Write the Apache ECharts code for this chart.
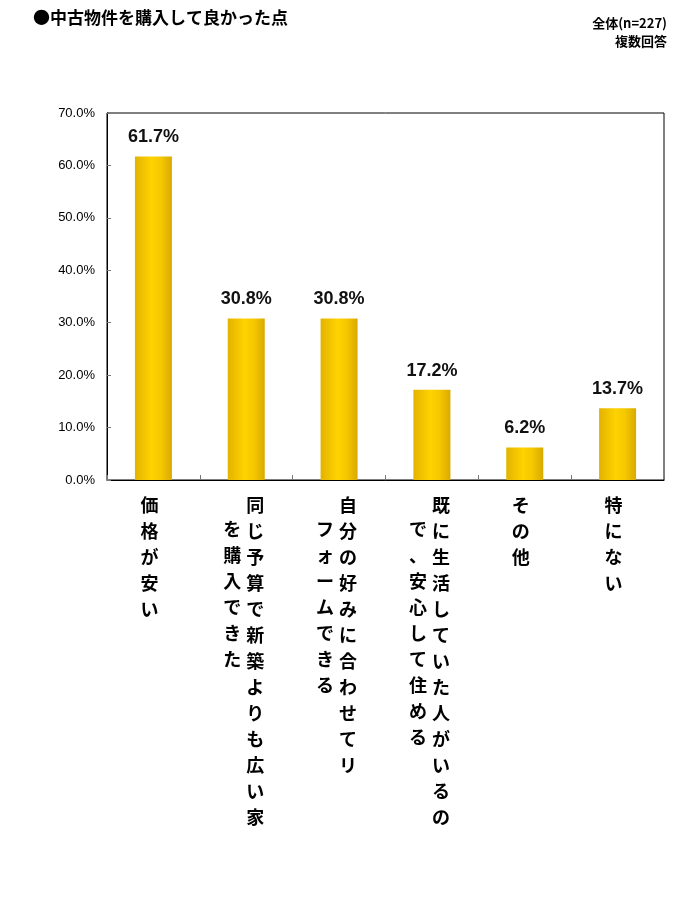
<!DOCTYPE html>
<html>
<head>
<meta charset="utf-8">
<script src="https://cdn.jsdelivr.net/npm/echarts@6/dist/echarts.min.js"></script>
<style>html,body{margin:0;background:#fff}#c{width:700px;height:904px}</style>
</head>
<body>
<div id="c"></div>
<script>
var categories = ['価格が安い', '同じ予算で新築よりも広い家を購入できた', '自分の好みに合わせてリフォームできる', '既に生活していた人がいるので、安心して住める', 'その他', '特にない'];
// label columns (vertical text, right column first)
var labelCol1 = ['価格が安い', '同じ予算で新築よりも広い家', '自分の好みに合わせてリ', '既に生活していた人がいるの', 'その他', '特にない'];
var labelCol2 = ['', 'を購入できた', 'フォームできる', 'で、安心して住める', '', ''];
var values = [61.7, 30.8, 30.8, 17.2, 6.2, 13.7];

var font = '"Noto Sans CJK JP", sans-serif';

var chart = echarts.init(document.getElementById('c'));
var baseAxis = {
    type: 'category',
    data: categories,
    position: 'bottom',
    offset: 0,
    axisLine: { show: false },
    axisTick: { show: false }
};
var charStyle = { fontFamily: font, fontSize: 18, fontWeight: 'bold', color: '#000', lineHeight: 26 };
chart.setOption({
    animation: false,
    title: [
        { text: '●中古物件を購入して良かった点', left: 28, top: 4,
          textStyle: { fontFamily: font, fontSize: 17, fontWeight: 'bold', color: '#000' } },
        { text: '全体(n=227)', right: 28, top: 12,
          textStyle: { fontFamily: font, fontSize: 13, fontWeight: 'bold', color: '#000' } },
        { text: '複数回答', right: 28, top: 30,
          textStyle: { fontFamily: font, fontSize: 13, fontWeight: 'bold', color: '#000' } }
    ],
    grid: { left: 107, right: 36, top: 113, bottom: 424, show: true, borderColor: '#000', borderWidth: 1 },
    xAxis: [
        Object.assign({}, baseAxis, {
            axisLine: { show: true, lineStyle: { color: '#000' } },
            axisTick: { show: true, inside: true, length: 5, lineStyle: { color: '#777' } },
            axisLabel: {
                margin: 12, interval: 0,
                formatter: function (v, i) {
                    var style = labelCol2[i] ? 'r' : 'c';
                    return labelCol1[i].split('').map(function (ch) { return '{' + style + '|' + ch + '}'; }).join('\n');
                },
                rich: {
                    c: Object.assign({}, charStyle, { padding: [0, 8, 0, 0] }),
                    r: Object.assign({}, charStyle, { padding: [0, 0, 0, 18] })
                }
            }
        }),
        Object.assign({}, baseAxis, {
            axisLabel: {
                margin: 36, interval: 0,
                formatter: function (v, i) {
                    if (!labelCol2[i]) return '';
                    return labelCol2[i].split('').map(function (ch) { return '{l|' + ch + '}'; }).join('\n');
                },
                rich: {
                    l: Object.assign({}, charStyle, { padding: [0, 28, 0, 0] })
                }
            }
        })
    ],
    yAxis: {
        type: 'value', min: 0, max: 70, interval: 10,
        splitLine: { show: false },
        axisLine: { show: true, lineStyle: { color: '#000' } },
        axisTick: { show: true, inside: true, length: 4, lineStyle: { color: '#777' } },
        axisLabel: { fontFamily: 'Liberation Sans, sans-serif', fontSize: 13, color: '#000', margin: 12,
            formatter: function (v) { return v.toFixed(1) + '%'; } }
    },
    series: [{
        type: 'bar',
        data: values,
        barWidth: 37,
        itemStyle: {
            color: new echarts.graphic.LinearGradient(0, 0, 1, 0, [
                { offset: 0, color: '#E2B300' },
                { offset: 0.45, color: '#FFD200' },
                { offset: 0.7, color: '#F5C800' },
                { offset: 1, color: '#D9AA00' }
            ])
        },
        label: {
            show: true, position: 'top', distance: 10,
            fontFamily: 'Liberation Sans, Arial, sans-serif', fontSize: 18, fontWeight: 'bold', color: '#111',
            formatter: function (p) { return p.value.toFixed(1) + '%'; }
        }
    }]
});
</script>
</body>
</html>
